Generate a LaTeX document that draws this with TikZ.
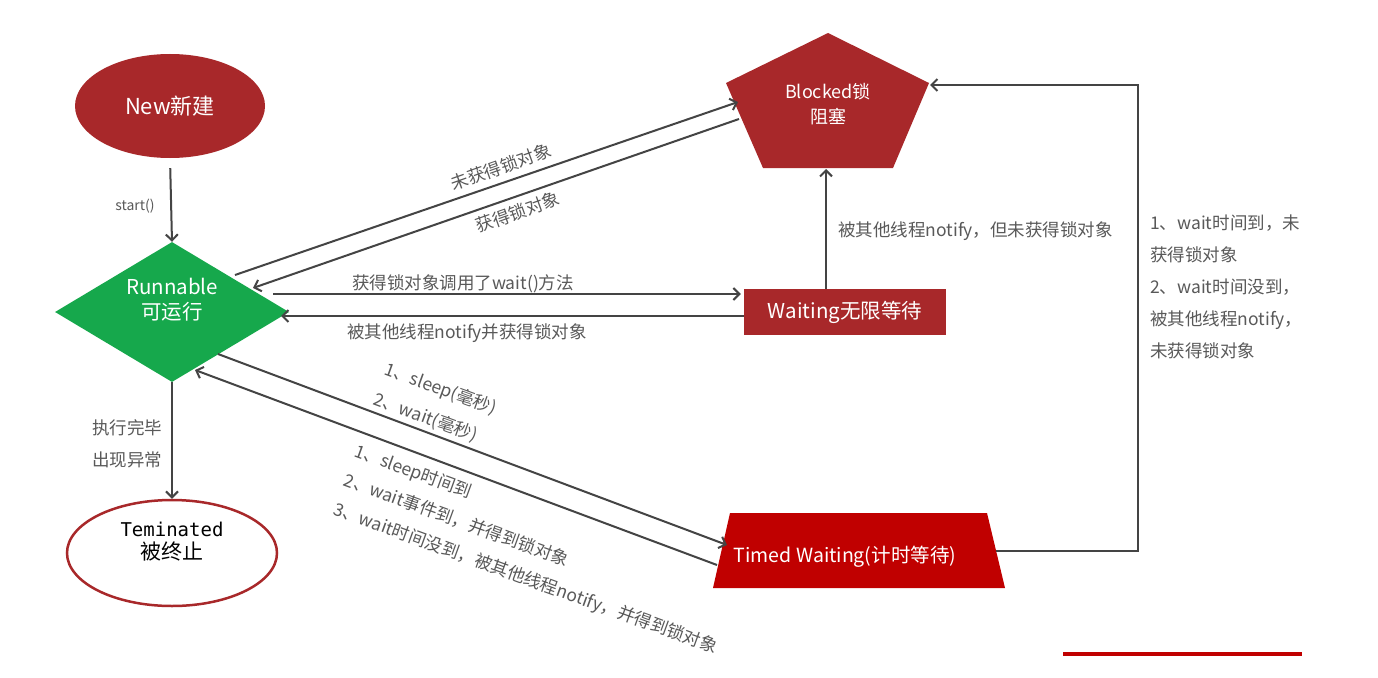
\documentclass[tikz,border=0pt]{standalone}
\usepackage{fontspec}
\setmainfont{Noto Sans CJK SC}
\newfontfamily\monofnt{DejaVu Sans Mono}
\usetikzlibrary{shapes.geometric,arrows.meta}
\definecolor{stred}{RGB}{168,40,42}
\definecolor{tred}{RGB}{192,0,0}
\definecolor{rgreen}{RGB}{22,168,76}
\definecolor{arrgray}{RGB}{68,68,68}
\definecolor{lblgray}{RGB}{89,89,89}
\tikzset{
  arr/.style={draw=arrgray, line width=2pt, -{Straight Barb[length=6pt,width=12pt,line width=2pt]}},
  lbl/.style={text=lblgray, font=\fontsize{17.5}{32}\selectfont, inner sep=0pt},
  wtxt/.style={text=white, inner sep=0pt, align=center},
}
\begin{document}
\begin{tikzpicture}[x=1pt,y=-1pt]
\useasboundingbox[fill=white] (0,0) rectangle (1378,677);

% New
\node[ellipse, fill=stred, minimum width=190pt, minimum height=104pt, inner sep=0pt] (new) at (170,106) {};
\node[wtxt, font=\fontsize{22}{26}\selectfont] (newt) at (170,106) {New新建};

% Runnable
\node[diamond, fill=rgreen, minimum width=234pt, minimum height=140pt, aspect=1.67, inner sep=0pt] (run) at (172,312) {};
\node[wtxt, font=\fontsize{20.5}{25}\selectfont] (runt) at (172,300) {Runnable\\可运行};

% Blocked pentagon
\coordinate (bT) at (828,33);
\coordinate (bR) at (929,83);
\coordinate (bBR) at (893,168);
\coordinate (bBL) at (763,168);
\coordinate (bL) at (726,83);
\fill[stred] (bT) -- (bR) -- (bBR) -- (bBL) -- (bL) -- cycle;
\node[wtxt, font=\fontsize{18}{25}\selectfont] (blk) at (828,104) {Blocked锁\\阻塞};

% Waiting
\node[rectangle, fill=stred, minimum width=202pt, minimum height=46pt, inner sep=0pt,
      text=white, font=\fontsize{20.5}{24}\selectfont] (wait) at (845,312) {Waiting无限等待};

% Timed waiting trapezoid
\coordinate (tTL) at (730,513);
\coordinate (tTR) at (987,513);
\coordinate (tBR) at (1005,588);
\coordinate (tBL) at (713,588);
\fill[tred] (tTL) -- (tTR) -- (tBR) -- (tBL) -- cycle;
\node[wtxt, font=\fontsize{19.5}{24}\selectfont] (timed) at (845,557) {Timed Waiting(计时等待)};

% Terminated
\node[ellipse, draw=stred, line width=2.5pt, fill=white, minimum width=210pt, minimum height=106pt, inner sep=0pt] (term) at (172,553) {};
\node[inner sep=0pt, align=center, text=black] (termt) at (172,542)
  {{\monofnt\fontsize{19}{22}\selectfont Teminated}\\[4pt]{\fontsize{21}{24}\selectfont 被终止}};

% connectors
\draw[arr, shorten <=10pt] (new.south) -- (run.north);
\node[lbl, font=\fontsize{14}{18}\selectfont, anchor=base] (startl) at (135,210) {start()};

\draw[arr] (run.south) -- (term.north);
\node[lbl, anchor=base west, align=left] (endl) at (92,466) {执行完毕\\出现异常};

\coordinate (rA) at (235,275);
\coordinate (bA) at (738,102);
\draw[arr] (rA) -- (bA);
\coordinate (bB) at (739,119);
\coordinate (rB) at (253,288);
\draw[arr] (bB) -- (rB);
\node[lbl, rotate=19.5] (l1) at (501,167) {未获得锁对象};
\node[lbl, rotate=19.5] (l2) at (518,212) {获得锁对象};

\coordinate (rW) at (273,294);
\draw[arr, shorten >=3pt] (rW) -- ([yshift=18pt]wait.west);
\node[lbl, anchor=base] (l3) at (463,289) {获得锁对象调用了wait()方法};
\coordinate (rW2) at (281,316);
\draw[arr] ([yshift=-4pt]wait.west) -- (rW2);
\node[lbl, anchor=base] (l4) at (467,338) {被其他线程notify并获得锁对象};

\coordinate (bW) at (826,169);
\draw[arr] ([xshift=-19pt]wait.north) -- (bW);
\node[lbl, anchor=base west] (l5) at (838,236) {被其他线程notify，但未获得锁对象};

\coordinate (rT) at (218,354);
\coordinate (tA) at (727,545);
\draw[arr] (rT) -- (tA);
\coordinate (tB) at (717,565);
\coordinate (rT2) at (195,370);
\draw[arr] (tB) -- (rT2);
\node[lbl, rotate=-20, align=left] (l6) at (435,404) {1、sleep(毫秒)\\2、wait(毫秒)};
\node[lbl, rotate=-20, align=left, font=\fontsize{17.5}{31}\selectfont] (l7) at (536,550)
  {1、sleep时间到\\2、wait事件到，并得到锁对象\\3、wait时间没到，被其他线程notify，并得到锁对象};

\coordinate (tR) at (996,551);
\coordinate (c1) at (1138,551);
\coordinate (c2) at (1138,85);
\coordinate (bIn) at (930,85);
\draw[arr] (tR) -- (c1) -- (c2) -- (bIn);
\node[lbl, anchor=base west, align=left] (l8) at (1150,357)
  {1、wait时间到，未\\获得锁对象\\2、wait时间没到，\\被其他线程notify，\\未获得锁对象};

% bottom red bar
\fill[tred] (1063,652) rectangle (1302,656);
\end{tikzpicture}
\end{document}
